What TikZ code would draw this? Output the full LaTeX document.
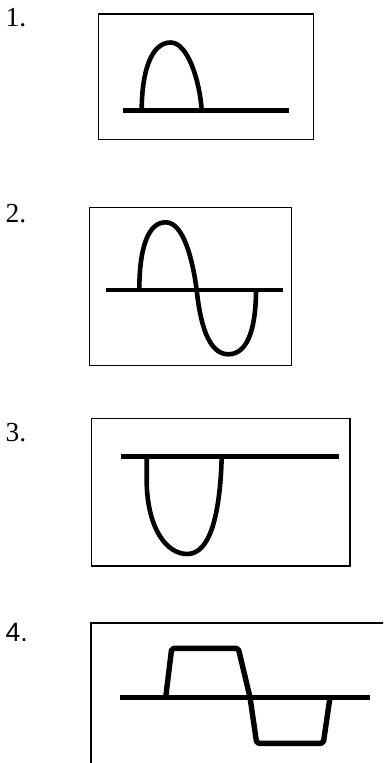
\documentclass[tikz,border=0pt]{standalone}
\usepackage{fontspec}
\setmainfont{Liberation Serif}
\newfontfamily\labsans{Liberation Sans}
\begin{document}
\begin{tikzpicture}[x=1pt,y=-1pt,
  frame/.style={draw=black,line width=1.3pt},
  frameb/.style={draw=black,line width=2pt},
  axisline/.style={draw=black,line width=4.8pt},
  wave/.style={draw=black,line width=4.6pt,line join=round},
  sqwave/.style={draw=black,line width=5.4pt,line join=round},
  lab/.style={anchor=base west,inner sep=0pt,font=\fontsize{27.5}{30}\selectfont},
  labs/.style={anchor=base west,inner sep=0pt,font=\labsans\fontsize{26.5}{30}\selectfont}]
\useasboundingbox (0,0) rectangle (383,763);
\clip (0,0) rectangle (383,763);
% labels
\node[lab] (l1) at (5.5,26) {1.};
\node[lab] (l2) at (5.5,222.7) {2.};
\node[lab] (l3) at (5.5,441.7) {3.};
\node[labs] (l4) at (5.5,641.5) {4.};
% box 1
\draw[frame] (98.7,14) rectangle (313.3,139.3);
\draw[axisline] (122.7,110.7) -- (289.3,110.7);
\draw[wave] (141.7,110.7) .. controls (141.7,72) and (151,42.5) .. (170.7,42.5)
  .. controls (188,42.5) and (200,82) .. (201.7,110.7);
% box 2
\draw[frame] (89.3,207.3) rectangle (291.7,365.7);
\draw[axisline] (106,290) -- (282.7,290);
\draw[wave] (139.3,290) .. controls (139.3,248) and (148,222.3) .. (165.7,222.3)
  .. controls (184,222.3) and (193,262) .. (196.7,290)
  .. controls (200,322) and (208,354.3) .. (228.3,354.3)
  .. controls (250,354.3) and (256,322) .. (256,290);
% box 3
\draw[frame] (91.7,418.3) rectangle (350,566);
\draw[axisline] (120.7,456.7) -- (339,456.7);
\draw[wave] (146.7,456.7) -- (146.7,484) .. controls (148,528) and (166,554) .. (187.3,554)
  .. controls (209,554) and (220,518) .. (221.7,456.7);
% box 4
\draw[frameb] (90.7,770) -- (90.7,622.7) -- (390,622.7);
\draw[axisline,line width=5.6pt] (120,697.3) -- (370,697.3);
\draw[sqwave,rounded corners=2pt] (165.7,697.3) -- (171.7,648.3) -- (238.3,648.3)
  -- (250,697.3) -- (256.7,743.3) -- (323.3,743.3) -- (330,697.3);
\end{tikzpicture}
\end{document}
